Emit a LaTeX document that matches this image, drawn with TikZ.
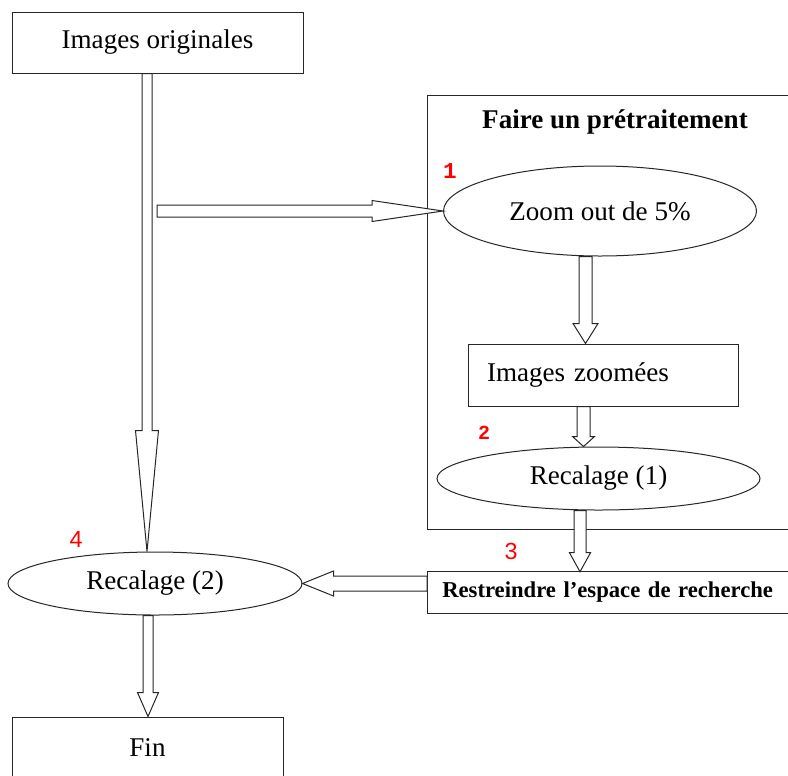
\documentclass[tikz,border=0pt]{standalone}
\usepackage{fontspec}
\setmainfont{Liberation Serif}
\newfontfamily\stepsans{Liberation Sans}
\newfontfamily\stepmono{Liberation Mono}
\usetikzlibrary{shapes.geometric,calc}

% Hollow block arrows: from #1 to #2, shaft half-width #3, head half-width #4, head length #5
\newcommand\blockdown[5]{%
  \draw[blockarrow] let \p1=(#1), \p2=(#2) in
    (\x1-#3,\y1) -- (\x1-#3,\y2+#5) -- (\x1-#4,\y2+#5) -- (\x1,\y2)
    -- (\x1+#4,\y2+#5) -- (\x1+#3,\y2+#5) -- (\x1+#3,\y1) -- cycle;}
\newcommand\blockright[5]{%
  \draw[blockarrow] let \p1=(#1), \p2=(#2) in
    (\x1,\y1-#3) -- (\x2-#5,\y1-#3) -- (\x2-#5,\y1-#4) -- (\x2,\y1)
    -- (\x2-#5,\y1+#4) -- (\x2-#5,\y1+#3) -- (\x1,\y1+#3) -- cycle;}
\newcommand\blockleft[5]{%
  \draw[blockarrow] let \p1=(#1), \p2=(#2) in
    (\x1,\y1-#3) -- (\x2+#5,\y1-#3) -- (\x2+#5,\y1-#4) -- (\x2,\y1)
    -- (\x2+#5,\y1+#4) -- (\x2+#5,\y1+#3) -- (\x1,\y1+#3) -- cycle;}

\definecolor{stepred}{RGB}{255,0,0}

\tikzset{
  box/.style={draw=black!85, line width=0.75pt, fill=white, inner sep=0pt},
  frame/.style={draw=black!85, line width=0.75pt},
  oval/.style={ellipse, draw=black!85, line width=0.75pt, fill=white, inner sep=0pt},
  blockarrow/.style={draw=black!85, line width=0.75pt, fill=white, line join=miter},
  numsmall/.style={text=stepred, font=\stepmono\bfseries\fontsize{17}{17}\selectfont, inner sep=0pt},
  numlarge/.style={text=stepred, font=\stepsans\fontsize{17.5}{17.5}\selectfont, inner sep=0pt},
}

\begin{document}
\begin{tikzpicture}[x=0.75pt, y=-0.75pt, font=\fontsize{20.3}{24}\selectfont]
\useasboundingbox (0,0) rectangle (788,775);
\clip (0,0) rectangle (788,775);

% main column
\node[box, minimum width=218.25pt, minimum height=45.75pt] (orig) at (157.5,42.5) {Images originales};
\node[box, minimum width=203.25pt, minimum height=45.75pt] (fin) at (147.5,747.5) {Fin};
\node[oval, minimum width=220.5pt, minimum height=47.25pt] (rec2) at (155,583.5) {Recalage (2)};

% preprocessing frame, open on the right where it runs off the page
\node[inner sep=0pt, anchor=north west, minimum width=340pt, minimum height=325.5pt] (prep) at (427,95) {};
\draw[frame] (prep.north east) -- (prep.north west) -- (prep.south west) -- (prep.south east);
\node[font=\bfseries\fontsize{20.3}{24}\selectfont, inner sep=0pt] (preptitle) at (615,122) {Faire un prétraitement};
\node[oval, minimum width=234.75pt, minimum height=67.5pt] (zoom) at (600,211) {Zoom out de 5\%};
\node[box, minimum width=202.5pt, minimum height=46.5pt, text width=174pt, inner xsep=14.25pt, align=left] (zimg) at (603,375) {Images zoomées};
\node[oval, minimum width=242.25pt, minimum height=47.25pt] (rec1) at (598.5,478.5) {Recalage (1)};

% search-space restriction, also running off the page
\node[inner sep=0pt, anchor=west, minimum height=30.75pt, text width=330pt, inner xsep=11.25pt, align=left,
      font=\bfseries\fontsize{17}{20}\selectfont] (restr) at (427,592.5) {Restreindre l’espace de recherche};
\draw[frame] (restr.north east) -- (restr.north west) -- (restr.south west) -- (restr.south east);

% step numbers
\node[numsmall] (n1) at (450,171) {1};
\node[numsmall, font=\stepmono\bfseries\fontsize{15}{15}\selectfont] (n2) at (484,433) {2};
\node[numlarge] (n3) at (511,551) {3};
\node[numlarge] (n4) at (76,539) {4};

% connectors
\coordinate (mainstart) at ($(orig.south)+(-10.5,0)$);
\coordinate (mainend) at (mainstart |- rec2.north);
\blockdown{mainstart}{mainend}{3.75pt}{8.625pt}{90.75pt}

\coordinate (branch) at (157,0 |- zoom.west);
\blockright{branch}{zoom.west}{4.5pt}{7.875pt}{53.25pt}

\coordinate (zstart) at ($(zoom.south)+(-14.5,0)$);
\coordinate (zend) at (zstart |- zimg.north);
\blockdown{zstart}{zend}{4.875pt}{9.375pt}{15pt}

\coordinate (istart) at ($(zimg.south)+(-19.5,0)$);
\coordinate (iend) at (istart |- rec1.north);
\blockdown{istart}{iend}{4.875pt}{8.25pt}{7.5pt}

\coordinate (rstart) at ($(rec1.south)+(-18.5,0)$);
\coordinate (rend) at (rstart |- restr.north);
\blockdown{rstart}{rend}{4.5pt}{7.875pt}{14.25pt}

\coordinate (lstart) at (restr.west |- rec2.east);
\blockleft{lstart}{rec2.east}{5.625pt}{9.375pt}{23.25pt}

\coordinate (fstart) at ($(rec2.south)+(-7,0)$);
\coordinate (fend) at (fstart |- fin.north);
\blockdown{fstart}{fend}{3.75pt}{7.875pt}{18pt}
\end{tikzpicture}
\end{document}
